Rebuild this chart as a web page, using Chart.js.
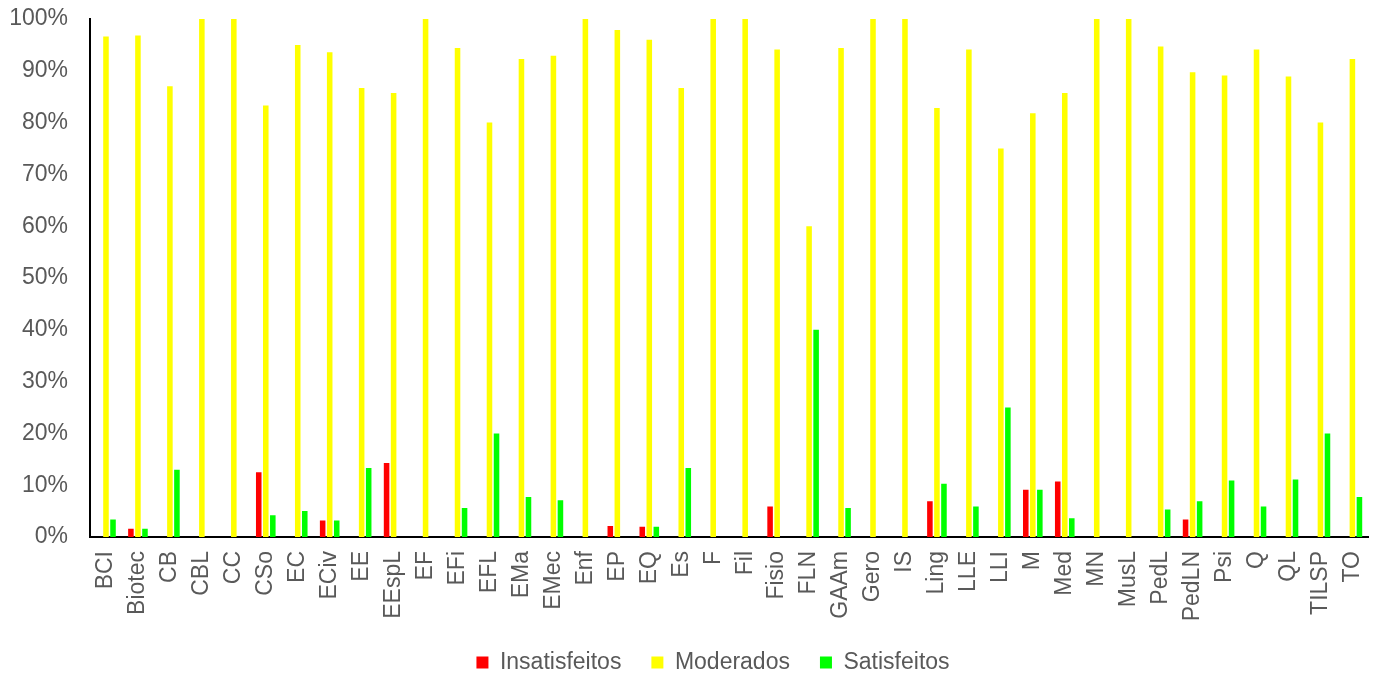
<!DOCTYPE html>
<html lang="pt">
<head>
  <meta charset="UTF-8">
  <title>Satisfação por curso</title>
  <script src="https://cdn.jsdelivr.net/npm/chart.js"></script>
  <style>
    body {
      margin: 0;
      background: #fff;
    }
    .chart-box {
      width: 1394px;
      height: 674px;
    }
  </style>
</head>
<body>
  <div class="chart-box">
    <canvas id="satChart"></canvas>
  </div>

<script>
  // cursos (eixo x)
  const cursos = ['BCI', 'Biotec', 'CB', 'CBL', 'CC', 'CSo', 'EC', 'ECiv', 'EE', 'EEspL',
    'EF', 'EFi', 'EFL', 'EMa', 'EMec', 'Enf', 'EP', 'EQ', 'Es', 'F',
    'Fil', 'Fisio', 'FLN', 'GAAm', 'Gero', 'IS', 'Ling', 'LLE', 'LLI', 'M',
    'Med', 'MN', 'MusL', 'PedL', 'PedLN', 'Psi', 'Q', 'QL', 'TILSP', 'TO'];

  // percentagens
  const insatisfeitos = [0, 1.6, 0, 0, 0, 12.5, 0, 3.2, 0, 14.3,
    0, 0, 0, 0, 0, 0, 2.1, 2.0, 0, 0,
    0, 5.9, 0, 0, 0, 0, 6.9, 0, 0, 9.1,
    10.7, 0, 0, 0, 3.4, 0, 0, 0, 0, 0];
  const moderados = [96.6, 96.8, 87.0, 100, 100, 83.3, 95.0, 93.6, 86.7, 85.7,
    100, 94.4, 80.0, 92.3, 92.9, 100, 97.9, 96.0, 86.7, 100,
    100, 94.1, 60.0, 94.4, 100, 100, 82.8, 94.1, 75.0, 81.8,
    85.7, 100, 100, 94.7, 89.7, 89.1, 94.1, 88.9, 80.0, 92.3];
  const satisfeitos = [3.4, 1.6, 13.0, 0, 0, 4.2, 5.0, 3.2, 13.3, 0,
    0, 5.6, 20.0, 7.7, 7.1, 0, 0, 2.0, 13.3, 0,
    0, 0, 40.0, 5.6, 0, 0, 10.3, 5.9, 25.0, 9.1,
    3.6, 0, 0, 5.3, 6.9, 10.9, 5.9, 11.1, 20.0, 7.7];

  const yTicks = [0, 10, 20, 30, 40, 50, 60, 70, 80, 90, 100];

  const txtColor = '#595959';
  const fontFam = '"Liberation Sans", Arial, sans-serif';

  Chart.defaults.font.family = fontFam;
  Chart.defaults.color = txtColor;

  // empurra a legenda um pouco para a direita, como no original
  const legendShift = {
    id: 'legendShift',
    afterLayout(chart) {
      chart.legend.left += 16;
      chart.legend.right += 16;
    }
  };

  const ctx = document.getElementById('satChart').getContext('2d');
  new Chart(ctx, {
    type: 'bar',
    data: {
      labels: cursos,
      datasets: [
        { label: 'Insatisfeitos', data: insatisfeitos, backgroundColor: '#ff0000' },
        { label: 'Moderados', data: moderados, backgroundColor: '#ffff00' },
        { label: 'Satisfeitos', data: satisfeitos, backgroundColor: '#00ff00' }
      ]
    },
    plugins: [legendShift],
    options: {
      responsive: true,
      maintainAspectRatio: false,
      animation: false,
      categoryPercentage: 0.66,
      barPercentage: 0.79,
      layout: { padding: { left: 0, right: 0, top: 19, bottom: -10 } },
      plugins: {
        tooltip: { enabled: false },
        legend: {
          position: 'bottom',
          labels: {
            boxWidth: 12,
            boxHeight: 12,
            padding: 30,
            color: txtColor,
            font: { size: 23 }
          }
        }
      },
      scales: {
        x: {
          grid: { display: false, drawTicks: false },
          border: { display: true, color: '#000', width: 2 },
          ticks: {
            autoSkip: false,
            maxRotation: 90,
            minRotation: 90,
            padding: 14,
            color: txtColor,
            font: { size: 23 }
          },
          afterFit: (scale) => { scale.height = 84; }
        },
        y: {
          min: 0,
          max: 100,
          grid: { display: false, drawTicks: false },
          border: { display: true, color: '#000', width: 2 },
          afterBuildTicks: (scale) => { scale.ticks = yTicks.map(v => ({ value: v })); },
          ticks: {
            padding: 22,
            color: txtColor,
            font: { size: 23 },
            callback: (v) => v + '%'
          },
          afterFit: (scale) => {
            scale.width = 90;
            scale.paddingTop = 0;
            scale.paddingBottom = 0;
          }
        }
      }
    }
  });
</script>
</body>
</html>
